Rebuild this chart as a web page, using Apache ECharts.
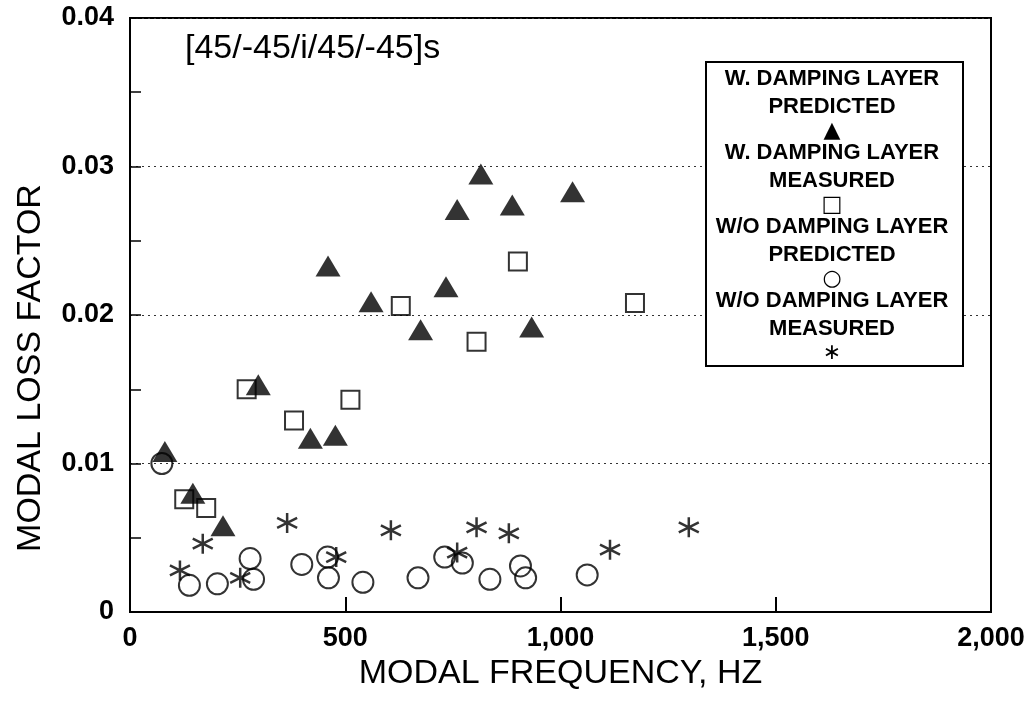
<!DOCTYPE html>
<html>
<head>
<meta charset="utf-8">
<script src="https://cdn.jsdelivr.net/npm/echarts@6/dist/echarts.min.js"></script>
<style>
  html, body { margin: 0; padding: 0; background: #fff; }
  #chart { width: 1033px; height: 704px; }
</style>
</head>
<body>
<div id="chart"></div>
<script>
// W. damping layer, predicted (filled triangles)
const wdPredHz = [81, 146, 216, 298, 419, 477, 460, 560, 675, 734, 760, 815, 888, 933, 1028];
const wdPredLoss = [0.0108, 0.0080, 0.0058, 0.0153, 0.0117, 0.0119, 0.0233, 0.0209, 0.0190, 0.0219, 0.0271, 0.0295, 0.0274, 0.0192, 0.0283];

// W. damping layer, measured (open squares)
const wdMeasHz = [126, 177, 271, 381, 512, 629, 805, 901, 1173];
const wdMeasLoss = [0.0076, 0.0070, 0.0150, 0.0129, 0.0143, 0.0206, 0.0182, 0.0236, 0.0208];

// W/O damping layer, predicted (open circles)
const woPredHz = [74, 138, 203, 279, 287, 399, 459, 461, 541, 669, 731, 772, 836, 907, 919, 1062];
const woPredLoss = [0.0100, 0.0018, 0.0019, 0.0036, 0.0022, 0.0032, 0.0037, 0.0023, 0.0020, 0.0023, 0.0037, 0.0033, 0.0022, 0.0031, 0.0023, 0.0025];

// W/O damping layer, measured (asterisks)
const woMeasHz = [116, 169, 256, 365, 479, 606, 760, 805, 880, 1115, 1298];
const woMeasLoss = [0.0028, 0.0046, 0.0023, 0.0060, 0.0037, 0.0055, 0.0040, 0.0057, 0.0053, 0.0042, 0.0057];

const seriesNames = [
  "W. DAMPING LAYER\nPREDICTED",
  "W. DAMPING LAYER\nMEASURED",
  "W/O DAMPING LAYER\nPREDICTED",
  "W/O DAMPING LAYER\nMEASURED"
];
const legendGlyphs = ["▲", "□", "○", "∗"];

const FONT = "'Liberation Sans', Arial, sans-serif";
const ASTERISK = "path://M0,-10L0,10M-8.66,-5L8.66,5M-8.66,5L8.66,-5";

function pairs(xs, ys) {
  return xs.map((x, i) => [x, ys[i]]);
}

const myChart = echarts.init(document.getElementById("chart"));

const option = {
  backgroundColor: "#fff",
  animation: false,
  textStyle: { fontFamily: FONT, color: "#000" },
  title: {
    text: "[45/-45/i/45/-45]s",
    left: 185,
    top: 32,
    padding: 0,
    textStyle: { fontSize: 34, fontWeight: "normal", color: "#000", fontFamily: FONT }
  },
  grid: {
    left: 130,
    right: 42,
    top: 18,
    bottom: 92,
    show: true,
    borderColor: "#000",
    borderWidth: 2,
    backgroundColor: "transparent"
  },
  legend: {
    orient: "vertical",
    left: 706,
    top: 62,
    padding: [6, 11, 2, 0],
    itemGap: 0,
    itemWidth: 0,
    itemHeight: 0,
    selectedMode: false,
    backgroundColor: "#fff",
    borderColor: "#000",
    borderWidth: 2,
    data: seriesNames,
    formatter: function (name) {
      const idx = seriesNames.indexOf(name);
      const lines = name.split("\n");
      return lines.map(l => "{t|" + l + "}").join("\n") + "\n{m|" + legendGlyphs[idx] + "}";
    },
    textStyle: {
      width: 240,
      rich: {
        t: { width: 240, align: "center", fontSize: 22, fontWeight: "bold", lineHeight: 28, fontFamily: FONT, color: "#000" },
        m: { width: 240, align: "center", fontSize: 22, lineHeight: 20, fontFamily: "'DejaVu Sans', sans-serif", color: "#000" }
      }
    }
  },
  xAxis: {
    type: "value",
    min: 0,
    max: 2000,
    interval: 500,
    name: "MODAL FREQUENCY, HZ",
    nameLocation: "middle",
    nameGap: 43,
    nameTextStyle: { fontSize: 34, color: "#000", fontFamily: FONT },
    axisLine: { show: true, lineStyle: { color: "#000", width: 2 } },
    axisTick: { show: true, inside: true, length: 15, lineStyle: { color: "#000", width: 2 } },
    axisLabel: {
      fontSize: 27,
      fontWeight: "bold",
      color: "#000",
      margin: 13,
      formatter: v => v.toLocaleString("en-US")
    },
    splitLine: { show: false }
  },
  yAxis: {
    type: "value",
    min: 0,
    max: 0.04,
    interval: 0.01,
    name: "MODAL LOSS FACTOR",
    nameLocation: "middle",
    nameGap: 82,
    nameTextStyle: { fontSize: 34, color: "#000", fontFamily: FONT, padding: [0, 106, 0, 0] },
    axisLine: { show: true, lineStyle: { color: "#000", width: 2 } },
    axisTick: { show: true, inside: true, length: 11, lineStyle: { color: "#000", width: 1.5 } },
    minorTick: { show: true, splitNumber: 2, length: 11, lineStyle: { color: "#000", width: 1.5 } },
    axisLabel: {
      fontSize: 27,
      fontWeight: "bold",
      color: "#000",
      margin: 16,
      formatter: v => (v === 0 ? "0" : v.toFixed(2))
    },
    splitLine: { show: true, lineStyle: { color: "#333", type: [2, 4], width: 1 } }
  },
  series: [
    {
      name: seriesNames[0],
      type: "scatter",
      symbol: "triangle",
      symbolSize: [25, 21],
      itemStyle: { color: "#000" },
      data: pairs(wdPredHz, wdPredLoss)
    },
    {
      name: seriesNames[1],
      type: "scatter",
      symbol: "rect",
      symbolSize: 18,
      itemStyle: { color: "rgba(255,255,255,0)", borderColor: "#000", borderWidth: 2 },
      data: pairs(wdMeasHz, wdMeasLoss)
    },
    {
      name: seriesNames[2],
      type: "scatter",
      symbol: "circle",
      symbolSize: 21,
      itemStyle: { color: "rgba(255,255,255,0)", borderColor: "#000", borderWidth: 2 },
      data: pairs(woPredHz, woPredLoss)
    },
    {
      name: seriesNames[3],
      type: "scatter",
      symbol: ASTERISK,
      symbolSize: 20,
      itemStyle: { color: "rgba(0,0,0,0)", borderColor: "#000", borderWidth: 2.5 },
      data: pairs(woMeasHz, woMeasLoss)
    }
  ]
};

myChart.setOption(option);
</script>
</body>
</html>
